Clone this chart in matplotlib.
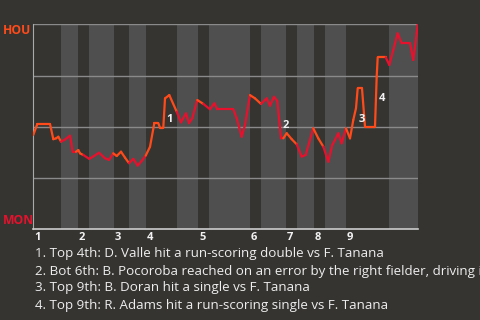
import matplotlib
matplotlib.use("Agg")
import matplotlib.pyplot as plt
from matplotlib.collections import LineCollection
from matplotlib.transforms import blended_transform_factory
import numpy as np

# win probability for HOU along the game (x = play position)
play_x = [0, 4.0, 16.7, 20.0, 22.7, 25.0, 27.7, 31.0, 36.7, 39.4,
          42.7, 45.0, 46.7, 50.0, 56.0, 60.7, 65.7, 71.7, 75.7, 80.0,
          83.4, 87.7, 91.7, 95.7, 100.0, 104.4, 108.4, 112.4, 116.7, 121.0,
          125.0, 126.7, 130.0, 131.7, 136.0, 143.4, 147.7, 152.7, 155.7, 159.0,
          164.0, 170.0, 176.7, 181.0, 184.0, 200.0, 203.4, 208.4, 211.7, 216.7,
          221.7, 227.7, 233.4, 236.7, 240.7, 244.0, 247.7, 250.0, 253.4, 258.4,
          263.4, 268.4, 272.4, 280.0, 285.0, 290.0, 295.0, 299.0, 301.7, 305.0,
          308.4, 312.7, 316.7, 320.0, 322.7, 324.4, 328.7, 331.7, 341.7, 343.4,
          344.4, 352.4, 356.0, 360.0, 364.4, 368.4, 376.7, 380.0, 383.4, 384.4]
hou_wp = [.461, .514, .514, .440, .444, .452, .428, .436, .457, .379,
          .379, .387, .371, .363, .344, .358, .374, .347, .339, .371,
          .358, .379, .350, .323, .344, .311, .334, .360, .403, .518,
          .518, .496, .496, .639, .655, .574, .522, .566, .518, .542,
          .631, .612, .586, .615, .586, .586, .542, .452, .509, .655,
          .639, .612, .639, .603, .647, .626, .444, .444, .469, .440,
          .415, .355, .363, .493, .444, .404, .330, .412, .436, .469,
          .420, .493, .444, .534, .591, .688, .688, .501, .501, .745,
          .839, .839, .802, .875, .956, .907, .907, .826, .956, 1.0]

# start of each half inning (top 1, bot 1, top 2, ...) and end of game
half_starts = [0, 27.7, 44.7, 55.7, 80.7, 95.7, 112.7, 143.7, 164.7, 175.7,
               216.7, 227.7, 252.7, 263.7, 280.7, 291.7, 312.7, 355.7, 384.4]
innings = ['1', '2', '3', '4', '5', '6', '7', '8', '9']

# key plays: index before and after the swing
event_from = [32, 55, 72, 78]
event_to = [33, 56, 75, 80]
notes = [
    "1. Top 4th: D. Valle hit a run-scoring double vs F. Tanana",
    "2. Bot 6th: B. Pocoroba reached on an error by the right fielder, driving in a run",
    "3. Top 9th: B. Doran hit a single vs F. Tanana",
    "4. Top 9th: R. Adams hit a run-scoring single vs F. Tanana",
]

bg = '#363431'
band = '#4f4f4f'
hou_col = '#ff4b1a'
mon_col = '#e8112d'
plt.rcParams['font.family'] = ['Open Sans', 'DejaVu Sans']

fig = plt.figure(figsize=(4.8, 3.2), dpi=100, facecolor=bg)
ax = fig.add_axes([0.0694, 0.283, 0.8008, 0.641])
ax.set_facecolor(bg)
ax.set_xlim(half_starts[0], half_starts[-1])
ax.set_ylim(0, 1)

# bottom halves get a lighter band
for i in range(1, len(half_starts) - 1, 2):
    ax.axvspan(half_starts[i], half_starts[i + 1], color=band, lw=0, zorder=0)

for g in [0.25, 0.5, 0.75, 1.0]:
    ax.axhline(g, color='#8a8a8a', lw=1, zorder=1)

# line segments coloured by which half inning the play is in
pts = np.column_stack([play_x, hou_wp])
segs = np.stack([pts[:-1], pts[1:]], axis=1)
cols = []
for x in play_x[1:]:
    k = np.searchsorted(half_starts, x, side='left') - 1
    k = max(k, 0)
    cols.append(hou_col if k % 2 == 0 else mon_col)
lc = LineCollection(segs, colors=cols, linewidths=1.6, zorder=3,
                    capstyle='round', joinstyle='round')
ax.add_collection(lc)

for n, (a, b) in enumerate(zip(event_from, event_to)):
    ym = (hou_wp[a] + hou_wp[b]) / 2
    ax.annotate(str(n + 1), (play_x[b], ym), xytext=(4.5, -6),
                textcoords='offset pixels', ha='center', va='center',
                color='#f2f2f2', fontsize=8, fontweight='bold', zorder=4)

for s in ['top', 'right']:
    ax.spines[s].set_visible(False)
ax.spines['left'].set_color('#aaaaaa')
ax.spines['bottom'].set_color('#cccccc')
ax.spines['bottom'].set_linewidth(1.2)
ax.set_xticks([])
ax.set_yticks([])

tr = blended_transform_factory(ax.transData, ax.transAxes)
for i, lab in enumerate(innings):
    ax.text(half_starts[2 * i] + 1, -0.04, lab, transform=tr, ha='left', va='center',
            color='#f2f2f2', fontsize=8, fontweight='bold')

fig.text(3 / 480, 1 - 31 / 320, 'HOU', color=hou_col, fontsize=8.7,
         fontweight='bold', ha='left', va='center')
fig.text(3 / 480, 1 - 220 / 320, 'MON', color=mon_col, fontsize=8.7,
         fontweight='bold', ha='left', va='center')

for i, t in enumerate(notes):
    fig.text(35 / 480, 1 - (254 + 17 * i) / 320, t, color='#eeeeee',
             fontsize=9.6, ha='left', va='center')

fig.savefig('out.png', dpi=100, facecolor=bg)
